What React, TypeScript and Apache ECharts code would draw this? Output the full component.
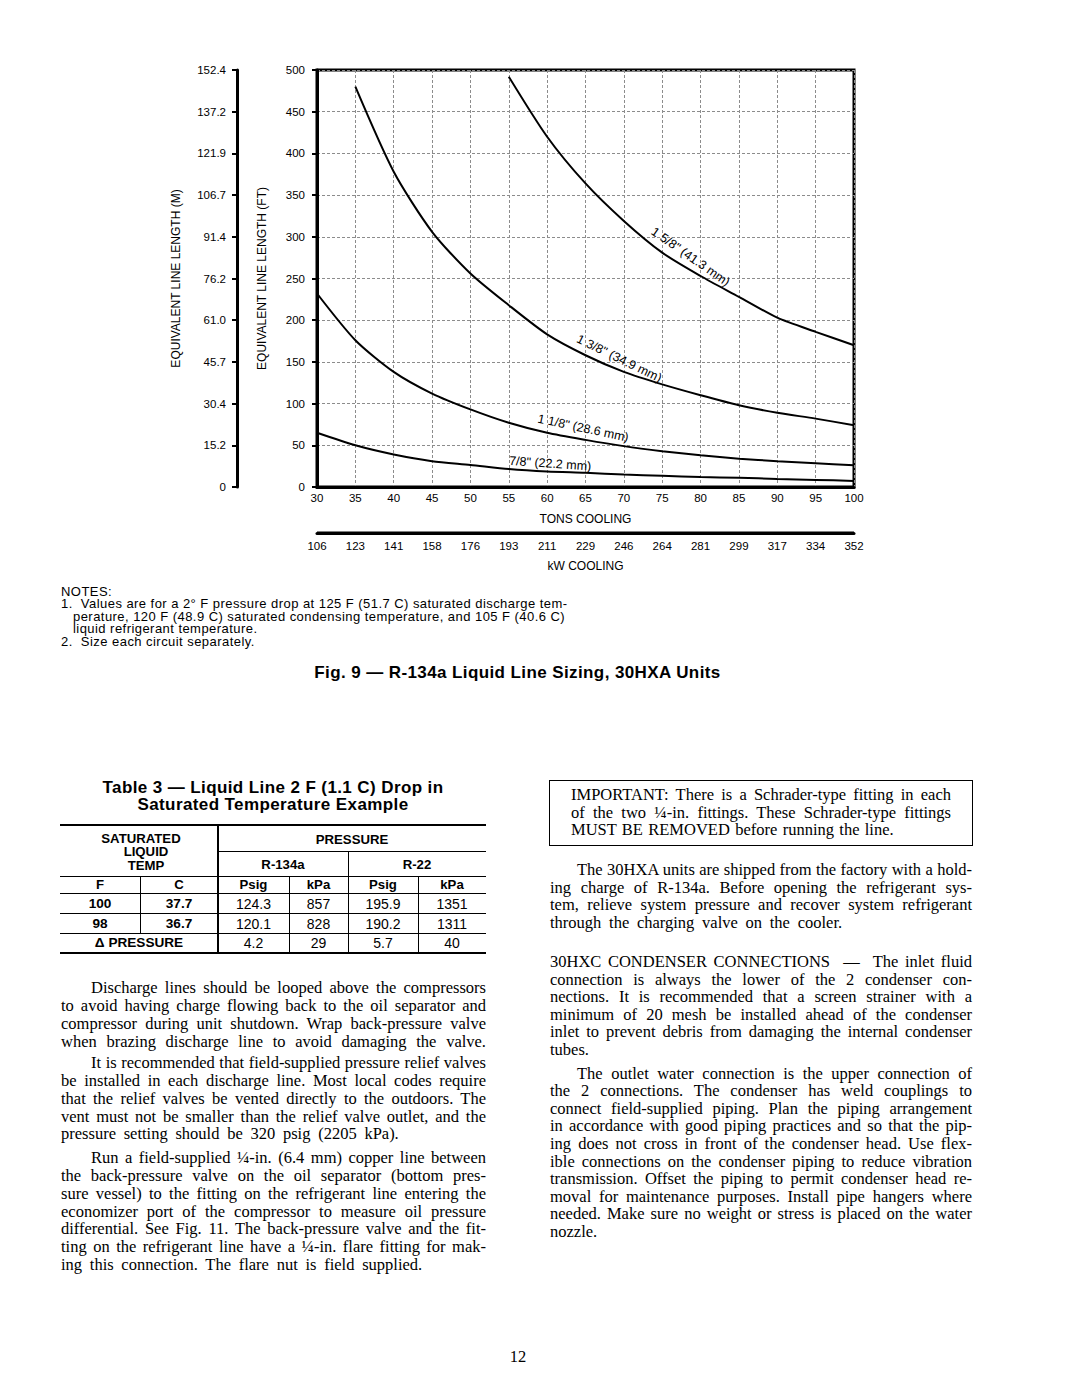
import React, { useEffect, useRef } from "react";
import * as echarts from "echarts";

// ---------- Chart data ----------
const tonTicks = [30, 35, 40, 45, 50, 55, 60, 65, 70, 75, 80, 85, 90, 95, 100];
const kwLabels = ["106", "123", "141", "158", "176", "193", "211", "229", "246", "264", "281", "299", "317", "334", "352"];
const meterLabels = ["0", "15.2", "30.4", "45.7", "61.0", "76.2", "91.4", "106.7", "121.9", "137.2", "152.4"];

const tons158 = [55, 60, 65, 70, 75, 80, 85, 90, 95, 100];
const feet158 = [492, 420, 364, 319, 281, 253, 228, 203, 186, 170];

const tons138 = [35, 40, 45, 50, 55, 60, 65, 70, 75, 80, 85, 90, 95, 100];
const feet138 = [480, 378, 306, 256, 218, 183, 158, 138, 123, 110, 98, 89, 82, 74];

const tons118 = [30, 35, 40, 45, 50, 55, 60, 65, 70, 75, 80, 85, 90, 95, 100];
const feet118 = [232, 176, 138, 112, 93, 77, 65, 56.5, 49, 43, 38, 34, 31, 28.6, 26];

const tons78 = [30, 35, 40, 45, 50, 55, 60, 65, 70, 75, 80, 85, 90, 95, 100];
const feet78 = [65, 50, 39, 31, 26.5, 21.5, 18.5, 17, 15, 13.5, 12, 11, 9.7, 8.5, 7.3];

const curveNames = ['1 5/8" (41.3 mm)', '1 3/8" (34.9 mm)', '1 1/8" (28.6 mm)', '7/8" (22.2 mm)'];
const labelTons = [78.7, 69.4, 64.7, 60.4];
const labelFeet = [276, 154, 70.6, 28];
const labelAngles = [-35, -26, -12, -4];

// ---------- Table data ----------
const tempF = ["100", "98"];
const tempC = ["37.7", "36.7"];
const r134Psig = ["124.3", "120.1"];
const r134Kpa = ["857", "828"];
const r22Psig = ["195.9", "190.2"];
const r22Kpa = ["1351", "1311"];
const deltaRow = ["4.2", "29", "5.7", "40"];

const SANS = "'Liberation Sans', Arial, Helvetica, sans-serif";
const SERIF = "'Liberation Serif', 'Times New Roman', Times, serif";

// ---------- Text ----------
const notes = [
  "NOTES:",
  "1.\u00a0 Values are for a 2\u00b0 F pressure drop at 125 F (51.7 C) saturated discharge tem-",
  "perature, 120 F (48.9 C) saturated condensing temperature, and 105 F (40.6 C)",
  "liquid refrigerant temperature.",
  "2.\u00a0 Size each circuit separately.",
];

const leftP1 = [
  "Discharge lines should be looped above the compressors",
  "to avoid having charge flowing back to the oil separator and",
  "compressor during unit shutdown. Wrap back-pressure valve",
  "when brazing discharge line to avoid damaging the valve.",
];
const leftP2 = [
  "It is recommended that field-supplied pressure relief valves",
  "be installed in each discharge line. Most local codes require",
  "that the relief valves be vented directly to the outdoors. The",
  "vent must not be smaller than the relief valve outlet, and the",
  "pressure setting should be 320 psig (2205 kPa).",
];
const leftP3 = [
  "Run a field-supplied \u00bc-in. (6.4 mm) copper line between",
  "the back-pressure valve on the oil separator (bottom pres-",
  "sure vessel) to the fitting on the refrigerant line entering the",
  "economizer port of the compressor to measure oil pressure",
  "differential. See Fig. 11. The back-pressure valve and the fit-",
  "ting on the refrigerant line have a \u00bc-in. flare fitting for mak-",
  "ing this connection. The flare nut is field supplied.",
];
const importantLines = [
  "IMPORTANT: There is a Schrader-type fitting in each",
  "of the two \u00bc-in. fittings. These Schrader-type fittings",
  "MUST BE REMOVED before running the line.",
];
const rightP1 = [
  "The 30HXA units are shipped from the factory with a hold-",
  "ing charge of R-134a. Before opening the refrigerant sys-",
  "tem, relieve system pressure and recover system refrigerant",
  "through the charging valve on the cooler.",
];
const rightP2 = [
  "30HXC CONDENSER CONNECTIONS \u00a0\u2014\u00a0 The inlet fluid",
  "connection is always the lower of the 2 condenser con-",
  "nections. It is recommended that a screen strainer with a",
  "minimum of 20 mesh be installed ahead of the condenser",
  "inlet to prevent debris from damaging the internal condenser",
  "tubes.",
];
const rightP3 = [
  "The outlet water connection is the upper connection of",
  "the 2 connections. The condenser has weld couplings to",
  "connect field-supplied piping. Plan the piping arrangement",
  "in accordance with good piping practices and so that the pip-",
  "ing does not cross in front of the condenser head. Use flex-",
  "ible connections on the condenser piping to reduce vibration",
  "transmission. Offset the piping to permit condenser head re-",
  "moval for maintenance purposes. Install pipe hangers where",
  "needed. Make sure no weight or stress is placed on the water",
  "nozzle.",
];

type LnProps = {
  x: number; w?: number; cy: number; text: string; size?: number; lh?: number;
  justify?: boolean; indent?: number; family?: string; bold?: boolean; align?: "left" | "center" | "right";
  ls?: number; ws?: number;
};

function Ln({ x, w = 0, cy, text, size = 16.5, lh = 17.6, justify = false, indent = 0, family = SERIF, bold = false, align = "left", ls = 0, ws = 0 }: LnProps) {
  const style: React.CSSProperties = {
    position: "absolute",
    left: x,
    top: cy - lh / 2,
    height: lh,
    lineHeight: lh + "px",
    fontSize: size,
    fontFamily: family,
    fontWeight: bold ? 700 : 400,
    color: "#000",
    whiteSpace: "nowrap",
    paddingLeft: indent,
    boxSizing: "border-box",
    letterSpacing: ls,
    wordSpacing: ws,
    textAlign: justify ? "justify" : align,
    textAlignLast: justify ? "justify" : align,
  } as React.CSSProperties;
  if (w) style.width = w;
  return <div style={style}>{text}</div>;
}

function Para({ lines, x, w, cy0, step, indent, lastFull = false, lastWs = 3.6 }: { lines: string[]; x: number; w: number; cy0: number; step: number; indent: number; lastFull?: boolean; lastWs?: number }) {
  return (
    <>
      {lines.map((t, i) => {
        const full = i < lines.length - 1 || lastFull;
        return (
          <Ln key={i} x={x} w={w} cy={cy0 + i * step} lh={Math.min(step, 17.6)} text={t} indent={i === 0 ? indent : 0}
            justify={full} ws={full ? 0 : lastWs} />
        );
      })}
    </>
  );
}

function HLine({ x1, x2, y, t }: { x1: number; x2: number; y: number; t: number }) {
  return <div style={{ position: "absolute", left: x1, top: y - t / 2, width: x2 - x1, height: t, background: "#000" }} />;
}
function VLine({ x, y1, y2, t }: { x: number; y1: number; y2: number; t: number }) {
  return <div style={{ position: "absolute", left: x - t / 2, top: y1, width: t, height: y2 - y1, background: "#000" }} />;
}
function Cell({ cx, cy, text, bold = false, size = 14, h = 16 }: { cx: number; cy: number; text: string; bold?: boolean; size?: number; h?: number }) {
  return (
    <div style={{ position: "absolute", left: cx - 70, width: 140, top: cy - h / 2, height: h, lineHeight: h + "px", textAlign: "center", fontFamily: SANS, fontSize: size, fontWeight: bold ? 700 : 400, color: "#000", whiteSpace: "nowrap" }}>{text}</div>
  );
}

function Chart() {
  const ref = useRef<HTMLDivElement>(null);
  useEffect(() => {
    if (!ref.current) return;
    const chart = echarts.init(ref.current, null, { renderer: "svg" });
    const gridLine = { show: true, lineStyle: { color: "#8c8c8c", width: 1, type: [3, 2] as any } };
    const curveX = [tons158, tons138, tons118, tons78];
    const curveY = [feet158, feet138, feet118, feet78];
    const series = curveX.map((xs, k) => ({
      type: "line",
      xAxisIndex: 0,
      yAxisIndex: 0,
      data: xs.map((t, i) => [t, curveY[k][i]]),
      smooth: 0.25,
      symbol: "none",
      silent: true,
      lineStyle: { color: "#000", width: 2 },
      markPoint: {
        symbol: "circle",
        symbolSize: 0,
        silent: true,
        data: [{ coord: [labelTons[k], labelFeet[k]], value: 0 }],
        label: {
          show: true,
          position: "inside",
          formatter: curveNames[k],
          rotate: labelAngles[k],
          fontSize: 12.5,
          fontFamily: SANS,
          color: "#000",
        },
      },
    }));
    const nameStyle = { fontSize: 12, color: "#000", fontFamily: SANS };
    chart.setOption({
      animation: false,
      textStyle: { fontFamily: SANS, color: "#000" },
      grid: [
        { left: 317, top: 70, width: 537, height: 417, show: true, borderColor: "#000", borderWidth: 3, containLabel: false },
        { left: 317, top: 513, width: 537, height: 20, show: false, containLabel: false },
      ],
      xAxis: [
        {
          type: "value", gridIndex: 0, min: 30, max: 100, interval: 5, position: "bottom",
          axisLine: { show: true, onZero: false, lineStyle: { color: "#000", width: 3 } },
          axisTick: { show: false },
          axisLabel: { margin: 5, fontSize: 11.5, color: "#000", fontFamily: SANS },
          splitLine: gridLine,
          name: "TONS COOLING", nameLocation: "middle", nameGap: 26,
          nameTextStyle: nameStyle,
        },
        {
          type: "value", gridIndex: 1, min: 30, max: 100, interval: 5, position: "bottom",
          axisLine: { show: true, onZero: false, lineStyle: { color: "#000", width: 3 } },
          axisTick: { show: false },
          axisLabel: { margin: 7, fontSize: 11.5, color: "#000", fontFamily: SANS, formatter: (v: number) => kwLabels[tonTicks.indexOf(v)] ?? "" },
          splitLine: { show: false },
          name: "kW COOLING", nameLocation: "middle", nameGap: 27,
          nameTextStyle: nameStyle,
        },
      ],
      yAxis: [
        {
          type: "value", gridIndex: 0, min: 0, max: 500, interval: 50, position: "left",
          axisLine: { show: true, onZero: false, lineStyle: { color: "#000", width: 3 } },
          axisTick: { show: true, length: 5, lineStyle: { color: "#000", width: 2 } },
          axisLabel: { margin: 12, fontSize: 11.5, color: "#000", fontFamily: SANS },
          splitLine: gridLine,
          name: "EQUIVALENT LINE LENGTH (FT)", nameLocation: "middle", nameGap: 49, nameRotate: 90,
          nameTextStyle: nameStyle,
        },
        {
          type: "value", gridIndex: 0, min: 0, max: 500, interval: 50, position: "left", offset: 80,
          axisLine: { show: true, onZero: false, lineStyle: { color: "#000", width: 3 } },
          axisTick: { show: true, length: 5, lineStyle: { color: "#000", width: 2 } },
          axisLabel: { margin: 11, fontSize: 11.5, color: "#000", fontFamily: SANS, formatter: (v: number) => meterLabels[Math.round(v / 50)] ?? "" },
          splitLine: { show: false },
          name: "EQUIVALENT LINE LENGTH (M)", nameLocation: "middle", nameGap: 55, nameRotate: 90,
          nameTextStyle: nameStyle,
        },
        {
          type: "value", gridIndex: 1, min: 0, max: 1, show: false,
        },
      ],
      series,
    });
    // kW axis line, anchored to the kW axis scale (ends at 30 and 100 tons)
    const pA = chart.convertToPixel({ gridIndex: 1 }, [tonTicks[0], 0]) as number[];
    const pB = chart.convertToPixel({ gridIndex: 1 }, [tonTicks[tonTicks.length - 1], 0]) as number[];
    if (pA && pB) {
      chart.setOption({
        graphic: [
          {
            type: "line",
            silent: true,
            z: 10,
            shape: { x1: pA[0], y1: pA[1], x2: pB[0], y2: pB[1] },
            style: { stroke: "#000", lineWidth: 3 },
          },
        ],
      });
    }
    return () => chart.dispose();
  }, []);
  return <div ref={ref} style={{ position: "absolute", left: 0, top: 0, width: 1080, height: 600 }} />;
}

export default function App() {
  // table geometry
  const cx = [60, 140, 218, 289, 348, 418, 486];
  const ry = [825, 851.7, 876.7, 893.3, 913.3, 933.3, 953.3];
  const mid = (a: number, b: number) => (a + b) / 2;
  const colC = [mid(cx[0], cx[1]), mid(cx[1], cx[2]), mid(cx[2], cx[3]), mid(cx[3], cx[4]), mid(cx[4], cx[5]), mid(cx[5], cx[6])];
  const noteY = [592, 604.5, 617, 629.5, 642];

  return (
    <div style={{ position: "absolute", left: 0, top: 0, width: 1080, height: 1397, background: "#fff", overflow: "hidden" }}>
      <Chart />

      {notes.map((t, i) => (
        <Ln key={"n" + i} x={i === 2 || i === 3 ? 73 : 61} cy={noteY[i]} text={t} size={13} lh={12.5} family={SANS} ls={0.45} />
      ))}

      <Ln x={0} w={1035} cy={673} text={"Fig. 9 \u2014 R-134a Liquid Line Sizing, 30HXA Units"} size={17} lh={20} family={SANS} bold align="center" ls={0.4} />

      <Ln x={60} w={426} cy={787} text={"Table 3 \u2014 Liquid Line 2 F (1.1 C) Drop in"} size={17} lh={17} family={SANS} bold align="center" ls={0.4} />
      <Ln x={60} w={426} cy={804} text={"Saturated Temperature Example"} size={17} lh={17} family={SANS} bold align="center" ls={0.4} />

      {/* Table rules */}
      <HLine x1={cx[0]} x2={cx[6]} y={ry[0]} t={2} />
      <HLine x1={cx[2]} x2={cx[6]} y={ry[1]} t={1} />
      <HLine x1={cx[0]} x2={cx[6]} y={ry[2]} t={1} />
      <HLine x1={cx[0]} x2={cx[6]} y={ry[3]} t={1.5} />
      <HLine x1={cx[0]} x2={cx[6]} y={ry[4]} t={1} />
      <HLine x1={cx[0]} x2={cx[6]} y={ry[5]} t={1} />
      <HLine x1={cx[0]} x2={cx[6]} y={ry[6]} t={2} />
      <VLine x={cx[2]} y1={ry[0]} y2={ry[6]} t={2} />
      <VLine x={cx[1]} y1={ry[2]} y2={ry[5]} t={1} />
      <VLine x={cx[3]} y1={ry[2]} y2={ry[6]} t={1} />
      <VLine x={cx[4]} y1={ry[1]} y2={ry[6]} t={1} />
      <VLine x={cx[5]} y1={ry[2]} y2={ry[6]} t={1} />

      {/* Table header */}
      <Cell cx={141} cy={838} text="SATURATED" bold size={13.2} h={13} />
      <Cell cx={146} cy={851.5} text="LIQUID" bold size={13.2} h={13} />
      <Cell cx={146} cy={865} text="TEMP" bold size={13.2} h={13} />
      <Cell cx={mid(cx[2], cx[6])} cy={840} text="PRESSURE" bold size={13.2} />
      <Cell cx={mid(cx[2], cx[4])} cy={865} text="R-134a" bold size={13.2} />
      <Cell cx={mid(cx[4], cx[6])} cy={865} text="R-22" bold size={13.2} />
      {["F", "C", "Psig", "kPa", "Psig", "kPa"].map((t, i) => (
        <Cell key={"h" + i} cx={colC[i]} cy={885} text={t} bold size={13.2} />
      ))}
      {tempF.map((f, r) => {
        const cy = r === 0 ? 903.5 : 923.5;
        return (
          <React.Fragment key={"r" + r}>
            <Cell cx={colC[0]} cy={cy} text={f} bold size={13.6} />
            <Cell cx={colC[1]} cy={cy} text={tempC[r]} bold size={13.6} />
            <Cell cx={colC[2]} cy={cy} text={r134Psig[r]} size={14} />
            <Cell cx={colC[3]} cy={cy} text={r134Kpa[r]} size={14} />
            <Cell cx={colC[4]} cy={cy} text={r22Psig[r]} size={14} />
            <Cell cx={colC[5]} cy={cy} text={r22Kpa[r]} size={14} />
          </React.Fragment>
        );
      })}
      <Cell cx={mid(cx[0], cx[2])} cy={943.3} text={"\u0394 PRESSURE"} bold size={13.6} />
      {deltaRow.map((t, i) => (
        <Cell key={"d" + i} cx={colC[i + 2]} cy={943.3} text={t} size={14} />
      ))}

      {/* Left column paragraphs */}
      <Para lines={leftP1} x={61} w={425} cy0={988} step={17.8} indent={30} lastFull />
      <Para lines={leftP2} x={61} w={425} cy0={1063} step={17.8} indent={30} />
      <Para lines={leftP3} x={61} w={425} cy0={1158} step={17.8} indent={30} />

      {/* Important box */}
      <div style={{ position: "absolute", left: 549, top: 780, width: 424, height: 66, border: "1.5px solid #000", boxSizing: "border-box" }} />
      <Para lines={importantLines} x={571} w={380} cy0={795} step={17.2} indent={0} lastWs={1.2} />

      {/* Right column paragraphs */}
      <Para lines={rightP1} x={550} w={422} cy0={870} step={17.6} indent={27} />
      <Para lines={rightP2} x={550} w={422} cy0={961.7} step={17.6} indent={0} lastWs={0} />
      <Para lines={rightP3} x={550} w={422} cy0={1073.3} step={17.6} indent={27} lastWs={0} />

      <Ln x={418} w={200} cy={1357} text="12" size={16.5} lh={18} align="center" />
    </div>
  );
}
